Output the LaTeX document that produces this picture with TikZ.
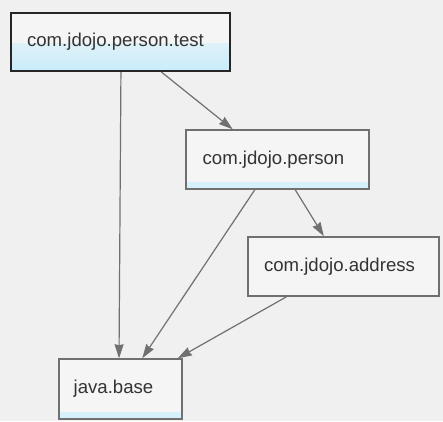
\documentclass[tikz,border=0pt]{standalone}
\usepackage{fontspec}
\setmainfont{Liberation Sans}
\usetikzlibrary{arrows.meta,calc}
\definecolor{bg}{HTML}{F0F0F0}
\definecolor{boxfill}{HTML}{F5F5F5}
\definecolor{lblue}{HTML}{C9EDFB}
\definecolor{edgegray}{HTML}{707070}
\definecolor{txt}{HTML}{333333}
\tikzset{
  modbox/.style={rectangle, draw=edgegray, line width=1.5pt, fill=boxfill,
    inner sep=0pt, text=txt, font=\fontsize{18.6}{20}\selectfont},
  rootbox/.style={modbox, draw=black!85, line width=2pt,
    path picture={\fill[top color=boxfill, bottom color=lblue]
      ($(path picture bounding box.west)+(0,-1pt)$) rectangle (path picture bounding box.south east);}},
  bandbox/.style={modbox,
    path picture={\fill[top color=boxfill, bottom color=lblue!80]
      ($(path picture bounding box.south west)+(0,7pt)$) rectangle (path picture bounding box.south east);}},
  dep/.style={draw=edgegray, line width=1.2pt, -{Stealth[length=14pt,width=9pt,inset=1pt]}}
}
\begin{document}
\begin{tikzpicture}[x=1pt,y=-1pt]
\fill[bg] (0,0) rectangle (443,421);
\useasboundingbox (0,0) rectangle (443,421);
\node[rootbox, minimum width=219pt, minimum height=58pt] (t) at (120.5,42) {\hspace*{-10pt}com.jdojo.person.test};
\node[bandbox, minimum width=183pt, minimum height=59pt] (p) at (277.5,159.5) {\hspace*{-8pt}com.jdojo.person};
\node[modbox, minimum width=191pt, minimum height=59pt] (a) at (343.5,266.5) {\hspace*{-8pt}com.jdojo.address};
\node[bandbox, minimum width=123pt, minimum height=60pt] (b) at (120.5,389) {\hspace*{-14pt}java.base};
\draw[dep] ($(t.south west)!0.502!(t.south east)$) -- ($(b.north west)!0.488!(b.north east)$);
\draw[dep] ($(t.south west)!0.685!(t.south east)$) -- ($(p.north west)!0.257!(p.north east)$);
\draw[dep] ($(p.south west)!0.377!(p.south east)$) -- ($(b.north west)!0.675!(b.north east)$);
\draw[dep] ($(p.south west)!0.596!(p.south east)$) -- ($(a.north west)!0.398!(a.north east)$);
\draw[dep] ($(a.south west)!0.204!(a.south east)$) -- ($(b.north west)!0.96!(b.north east)$);
\end{tikzpicture}
\end{document}
